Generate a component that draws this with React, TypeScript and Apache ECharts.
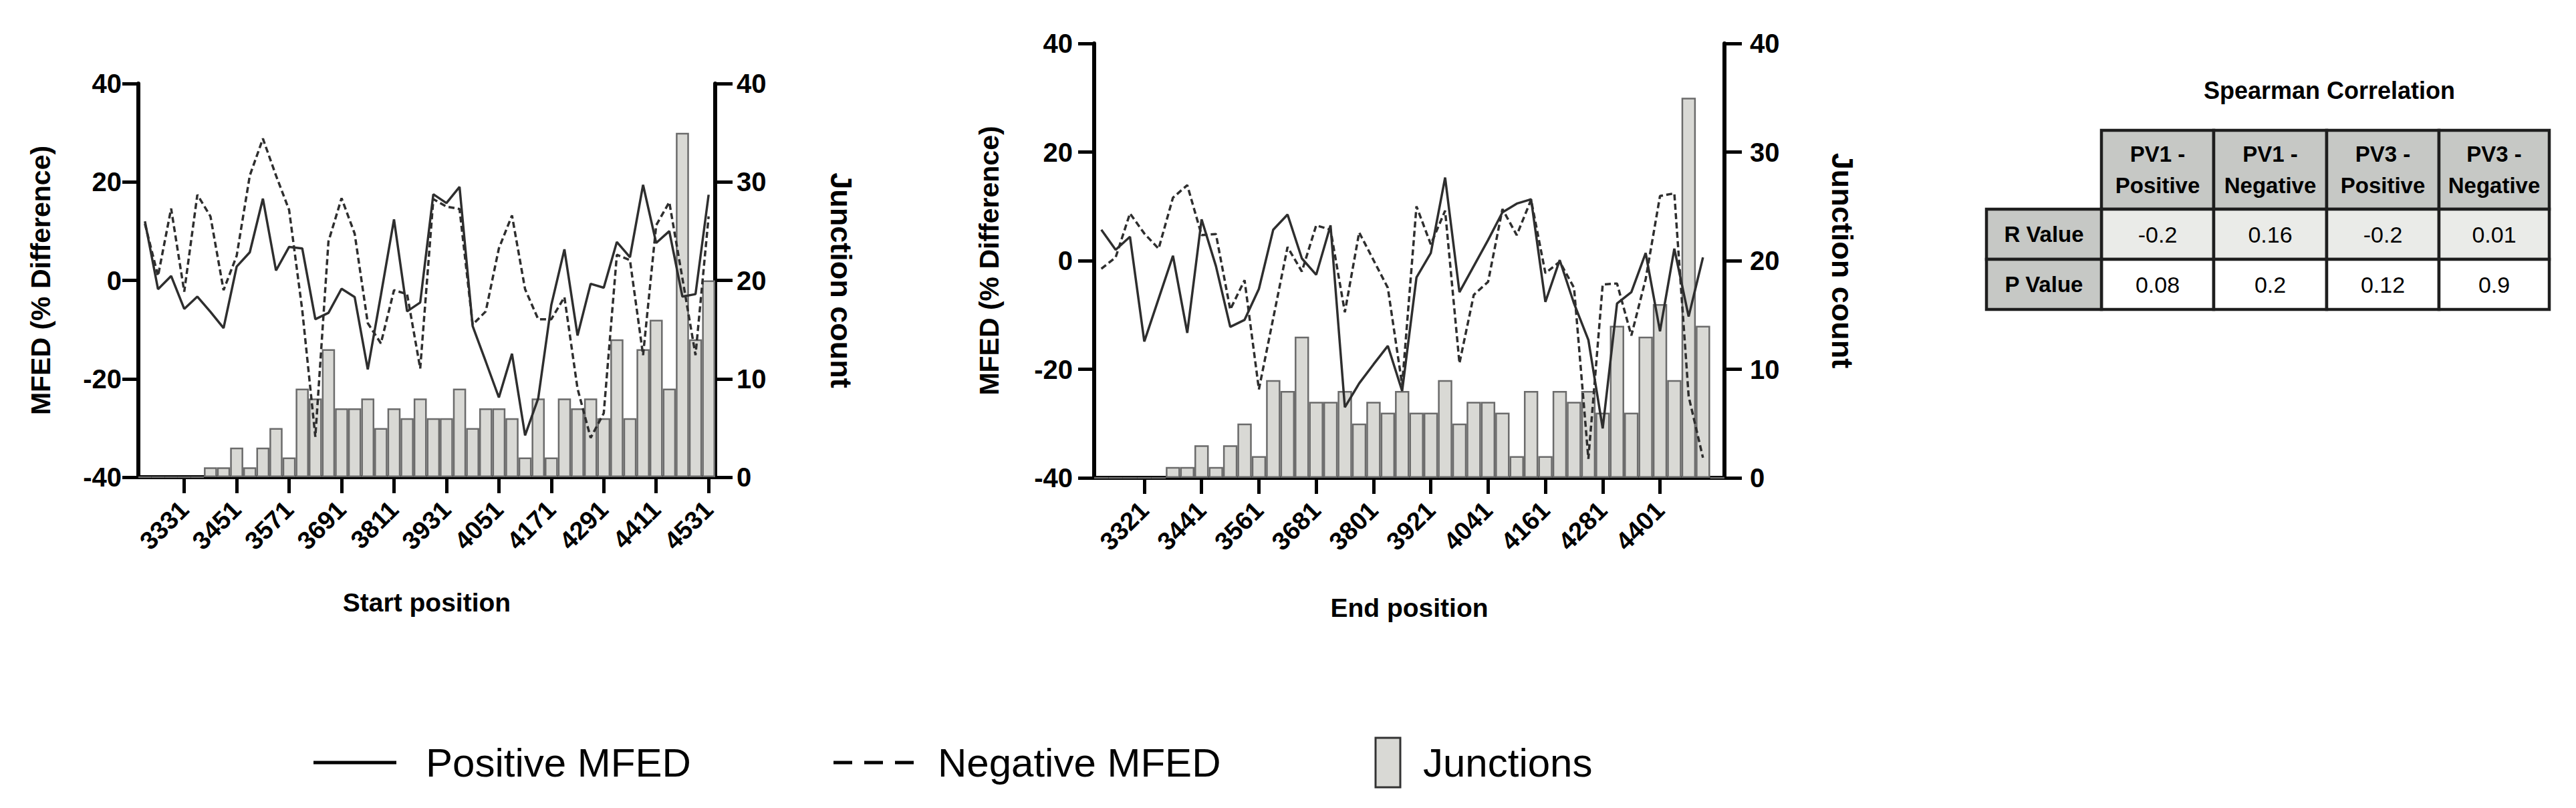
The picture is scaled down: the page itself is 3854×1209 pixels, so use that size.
import React, { useEffect, useRef } from "react";
import * as echarts from "echarts";

// ---------- DATA ----------
const startPositions = [
  "3241", "3271", "3301", "3331", "3361", "3391", "3421", "3451", "3481", "3511", "3541",
  "3571", "3601", "3631", "3661", "3691", "3721", "3751", "3781", "3811", "3841", "3871",
  "3901", "3931", "3961", "3991", "4021", "4051", "4081", "4111", "4141", "4171", "4201",
  "4231", "4261", "4291", "4321", "4351", "4381", "4411", "4441", "4471", "4501", "4531",
];
const startPositiveMFED = [
  12, -1.8, 0.9, -5.8, -3.3, -6.4, -9.7, 2.8, 5.7, 16.6, 2.0,
  6.8, 6.5, -7.9, -6.6, -1.7, -3.4, -18.1, -3, 12.4, -6.3, -4.5,
  17.5, 15.7, 19.0, -9.3, -16.5, -23.8, -14.9, -31.5, -24, -5, 6.3,
  -11.2, -0.7, -1.5, 7.8, 4.7, 19.4, 7.6, 10.0, -3.3, -2.8, 17.4,
];
const startNegativeMFED = [
  11.5, 0.9, 14.6, -2.3, 17.4, 13.0, -2.0, 5, 21.3, 28.8, 21.3,
  14.3, -6, -31.8, 7.9, 16.7, 9.5, -8.7, -12.8, -2.0, -2.8, -17.9,
  16.5, 15, 14.5, -9.0, -6.3, 6.5, 13.2, -1.8, -7.9, -7.9, -3.4,
  -22, -32, -27, 5.2, 4.1, -15.2, 11.2, 15.9, 0.4, -15.2, 13.0,
];
const startJunctions = [
  0, 0, 0, 0, 0, 1, 1, 3, 1, 3, 5,
  2, 9, 8, 13, 7, 7, 8, 5, 7, 6, 8,
  6, 6, 9, 5, 7, 7, 6, 2, 8, 2, 8,
  7, 8, 6, 14, 6, 13, 16, 9, 35, 14, 20,
];

const endPositions = [
  "3231", "3261", "3291", "3321", "3351", "3381", "3411", "3441", "3471", "3501", "3531",
  "3561", "3591", "3621", "3651", "3681", "3711", "3741", "3771", "3801", "3831", "3861",
  "3891", "3921", "3951", "3981", "4011", "4041", "4071", "4101", "4131", "4161", "4191",
  "4221", "4251", "4281", "4311", "4341", "4371", "4401", "4431", "4461", "4491", "4521",
];
const endPositiveMFED = [
  5.7, 2.0, 4.4, -14.9, -7, 0.9, -13.3, 7.6, -1, -12.2, -10.9,
  -5.2, 5.7, 8.5, 0.4, -2.6, 6.5, -27, -22.6, -19.1, -15.7, -24.0,
  -3.1, 1.4, 15.3, -5.8, -1, 3.8, 8.9, 10.5, 11.3, -7.6, 0.1,
  -7.9, -14.6, -30.9, -7.9, -5.8, 1.4, -13.0, 2.2, -10.3, 0.6, null,
];
const endNegativeMFED = [
  -1.5, 0.6, 8.7, 5, 2.2, 11.6, 13.9, 4.7, 4.9, -9.0, -3.6,
  -23.7, -10.6, 2.5, -2.0, 6.5, 5.7, -9.5, 5.2, 0.1, -5.0, -22.9,
  10.0, 3.0, 9.2, -18.9, -6.3, -3.9, 9.5, 4.7, 11.2, -2.3, -0.2,
  -5.0, -36.5, -4.4, -4.2, -13.8, -3.4, 11.9, 12.4, -25, -36.3, null,
];
const endJunctions = [
  0, 0, 0, 0, 0, 1, 1, 3, 1, 3, 5,
  2, 9, 8, 13, 7, 7, 8, 5, 7, 6, 8,
  6, 6, 9, 5, 7, 7, 6, 2, 8, 2, 8,
  7, 8, 6, 14, 6, 13, 16, 9, 35, 14, 0,
];

const mfedTicks = { min: -40, max: 40, interval: 20 };
const countTicks = { min: 0, max: 40, interval: 10 };

const tableTitle = "Spearman Correlation";
const tableColumns = ["PV1 -\nPositive", "PV1 -\nNegative", "PV3 -\nPositive", "PV3 -\nNegative"];
const tableRows = ["R Value", "P Value"];
const rValues = ["-0.2", "0.16", "-0.2", "0.01"];
const pValues = ["0.08", "0.2", "0.12", "0.9"];

const legendLabels = ["Positive MFED", "Negative MFED", "Junctions"];

// ---------- STYLE ----------
const FONT = "'Liberation Sans', Arial, Helvetica, sans-serif";
const AXIS_LINE = { color: "#000", width: 6 };
const TICK_LINE = { color: "#000", width: 5 };
const BAR_FILL = "#d9d9d5";
const BAR_BORDER = "#6b6b6b";
const LINE_COLOR = "#2e2e2e";

function buildGridAxes(
  gridIndex: number,
  cats: string[],
  xName: string,
  labelFn: (i: number) => boolean,
  gaps: { xName: number; yLeftName: number; yRightName: number; yLeftMargin: number; yRightMargin: number }
) {
  const labelFont = { color: "#000", fontWeight: "bold" as const, fontFamily: FONT };
  const xAxis = {
    gridIndex,
    type: "category",
    data: cats,
    boundaryGap: true,
    axisLine: { show: true, onZero: false, lineStyle: AXIS_LINE },
    axisTick: { show: true, alignWithLabel: true, interval: (i: number) => labelFn(i), length: 24, lineStyle: TICK_LINE },
    axisLabel: { ...labelFont, interval: (i: number) => labelFn(i), rotate: 45, margin: 42, fontSize: 38 },
    splitLine: { show: false },
    name: xName,
    nameLocation: "middle",
    nameGap: gaps.xName,
    nameTextStyle: { ...labelFont, fontSize: 39 },
  };
  const yLeft = {
    gridIndex,
    type: "value",
    position: "left",
    ...mfedTicks,
    axisLine: { show: true, onZero: false, lineStyle: AXIS_LINE },
    axisTick: { show: true, length: 24, lineStyle: TICK_LINE },
    axisLabel: { ...labelFont, fontSize: 40, margin: gaps.yLeftMargin },
    splitLine: { show: false },
    name: "MFED (% Difference)",
    nameLocation: "middle",
    nameRotate: 90,
    nameGap: gaps.yLeftName,
    nameTextStyle: { ...labelFont, fontSize: 41 },
  };
  const yRight = {
    gridIndex,
    type: "value",
    position: "right",
    ...countTicks,
    axisLine: { show: true, onZero: false, lineStyle: AXIS_LINE },
    axisTick: { show: true, length: 26, lineStyle: TICK_LINE },
    axisLabel: { ...labelFont, fontSize: 40, margin: gaps.yRightMargin },
    splitLine: { show: false },
    name: "Junction count",
    nameLocation: "middle",
    nameRotate: -90,
    nameGap: gaps.yRightName,
    nameTextStyle: { ...labelFont, fontSize: 45 },
  };
  return { xAxis, yLeft, yRight };
}

function buildSeries(gridIndex: number, pos: (number | null)[], neg: (number | null)[], bars: number[]) {
  return [
    {
      type: "bar",
      name: "Junctions",
      xAxisIndex: gridIndex,
      yAxisIndex: gridIndex * 2 + 1,
      data: bars,
      barWidth: "100%",
      itemStyle: { color: BAR_FILL, borderColor: BAR_BORDER, borderWidth: 2.5 },
      z: 1,
    },
    {
      type: "line",
      name: "Negative MFED",
      xAxisIndex: gridIndex,
      yAxisIndex: gridIndex * 2,
      data: neg,
      symbol: "none",
      lineStyle: { color: LINE_COLOR, width: 3.5, type: [9, 5] },
      z: 3,
    },
    {
      type: "line",
      name: "Positive MFED",
      xAxisIndex: gridIndex,
      yAxisIndex: gridIndex * 2,
      data: pos,
      symbol: "none",
      lineStyle: { color: LINE_COLOR, width: 3.5, type: "solid" },
      z: 4,
    },
  ];
}

function buildTable() {
  const els: any[] = [];
  const colX = [3144, 3312, 3481, 3649, 3814];
  const rowHeaderX = [2972, 3144];
  const headerY = [195, 313];
  const rowY = [313, 388, 463];
  const HEAD = "#c6c8c5";
  const RROW = "#eaebe8";
  const PROW = "#ffffff";
  const stroke = "#1e1e1e";
  const boldFont = `bold 33px ${FONT}`;
  const normFont = `34px ${FONT}`;

  els.push({
    type: "text",
    x: 3485,
    y: 135,
    style: { text: tableTitle, font: `bold 36px ${FONT}`, fill: "#000", align: "center", verticalAlign: "middle", textAlign: "center", textVerticalAlign: "middle" },
  });

  for (let c = 0; c < 4; c++) {
    const x0 = colX[c], x1 = colX[c + 1];
    els.push({
      type: "rect",
      shape: { x: x0, y: headerY[0], width: x1 - x0, height: headerY[1] - headerY[0] },
      style: { fill: HEAD, stroke, lineWidth: 4.5 },
    });
    els.push({
      type: "text",
      x: (x0 + x1) / 2,
      y: (headerY[0] + headerY[1]) / 2,
      style: { text: tableColumns[c], font: boldFont, lineHeight: 47, fill: "#000", align: "center", verticalAlign: "middle", textAlign: "center", textVerticalAlign: "middle" },
    });
    const vals = [rValues, pValues];
    for (let r = 0; r < 2; r++) {
      els.push({
        type: "rect",
        shape: { x: x0, y: rowY[r], width: x1 - x0, height: rowY[r + 1] - rowY[r] },
        style: { fill: r === 0 ? RROW : PROW, stroke, lineWidth: 4.5 },
      });
      els.push({
        type: "text",
        x: (x0 + x1) / 2,
        y: (rowY[r] + rowY[r + 1]) / 2,
        style: { text: vals[r][c], font: normFont, fill: "#000", align: "center", verticalAlign: "middle", textAlign: "center", textVerticalAlign: "middle" },
      });
    }
  }
  for (let r = 0; r < 2; r++) {
    els.push({
      type: "rect",
      shape: { x: rowHeaderX[0], y: rowY[r], width: rowHeaderX[1] - rowHeaderX[0], height: rowY[r + 1] - rowY[r] },
      style: { fill: HEAD, stroke, lineWidth: 4.5 },
    });
    els.push({
      type: "text",
      x: (rowHeaderX[0] + rowHeaderX[1]) / 2,
      y: (rowY[r] + rowY[r + 1]) / 2,
      style: { text: tableRows[r], font: boldFont, fill: "#000", align: "center", verticalAlign: "middle", textAlign: "center", textVerticalAlign: "middle" },
    });
  }
  return els;
}

function buildLegend() {
  const y = 1141;
  const font = `60px ${FONT}`;
  const txt = (x: number, t: string) => ({
    type: "text",
    x,
    y,
    style: { text: t, font, fill: "#000", align: "left", verticalAlign: "middle", textAlign: "left", textVerticalAlign: "middle" },
  });
  return [
    { type: "line", shape: { x1: 469, y1: y, x2: 593, y2: y }, style: { stroke: "#000", lineWidth: 5 } },
    txt(637, legendLabels[0]),
    { type: "line", shape: { x1: 1247, y1: y, x2: 1371, y2: y }, style: { stroke: "#000", lineWidth: 5, lineDash: [28, 18] } },
    txt(1403, legendLabels[1]),
    { type: "rect", shape: { x: 2058, y: 1104, width: 37, height: 74 }, style: { fill: BAR_FILL, stroke: "#333", lineWidth: 3 } },
    txt(2129, legendLabels[2]),
  ];
}

export default function App() {
  const ref = useRef<HTMLDivElement>(null);

  useEffect(() => {
    if (!ref.current) return;
    const chart = echarts.init(ref.current, undefined, { renderer: "svg" });

    const leftFn = (i: number) => i % 4 === 3;
    const midFn = (i: number) => i % 4 === 3 && i < 40;

    const g0 = buildGridAxes(0, startPositions, "Start position", leftFn, {
      xName: 168, yLeftName: 126, yRightName: 166, yLeftMargin: 25, yRightMargin: 32,
    });
    const g1 = buildGridAxes(1, endPositions, "End position", midFn, {
      xName: 175, yLeftName: 137, yRightName: 154, yLeftMargin: 32, yRightMargin: 38,
    });

    chart.setOption({
      animation: false,
      backgroundColor: "#ffffff",
      textStyle: { fontFamily: FONT },
      grid: [
        { left: 207, top: 125, width: 863, height: 589, containLabel: false },
        { left: 1637, top: 65, width: 943, height: 650, containLabel: false },
      ],
      xAxis: [g0.xAxis, g1.xAxis],
      yAxis: [g0.yLeft, g0.yRight, g1.yLeft, g1.yRight],
      series: [
        ...buildSeries(0, startPositiveMFED, startNegativeMFED, startJunctions),
        ...buildSeries(1, endPositiveMFED, endNegativeMFED, endJunctions),
      ],
      graphic: [...buildTable(), ...buildLegend()],
    });

    return () => chart.dispose();
  }, []);

  return (
    <div
      ref={ref}
      style={{ position: "fixed", left: 0, top: 0, width: 3854, height: 1209, background: "#fff" }}
    />
  );
}
